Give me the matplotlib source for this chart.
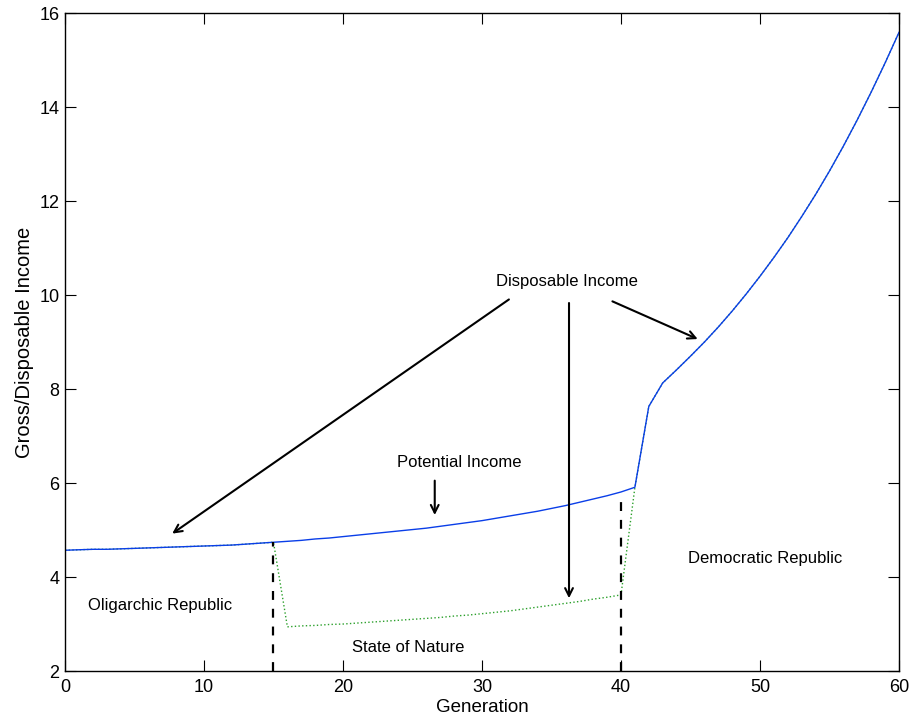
import matplotlib
matplotlib.use("Agg")
import matplotlib.pyplot as plt

plt.rcParams['font.family'] = ['Liberation Sans', 'DejaVu Sans']

# generations 0..60
generation = list(range(61))

# potential (gross) income
potential = [4.57, 4.58, 4.59, 4.59, 4.60, 4.61, 4.62, 4.63, 4.64, 4.65,
             4.66, 4.67, 4.68, 4.70, 4.72, 4.74, 4.76, 4.78, 4.81, 4.83,
             4.86, 4.89, 4.92, 4.95, 4.98, 5.01, 5.04, 5.08, 5.12, 5.16,
             5.20, 5.25, 5.30, 5.35, 5.40, 5.46, 5.52, 5.59, 5.66, 5.73,
             5.81, 5.91, 7.63, 8.13, 8.41, 8.70, 9.00, 9.32, 9.66, 10.02,
             10.40, 10.80, 11.22, 11.67, 12.14, 12.64, 13.17, 13.73, 14.32, 14.94,
             15.59]

# disposable income: drops during the state of nature (generations 16..40)
nature_income = [2.94, 2.96, 2.97, 2.99, 3.00, 3.02, 3.04, 3.06, 3.08, 3.10,
                 3.12, 3.14, 3.17, 3.19, 3.22, 3.25, 3.28, 3.32, 3.36, 3.40,
                 3.44, 3.48, 3.53, 3.57, 3.62]
disposable = potential[:16] + nature_income + potential[41:]

# regime switches
switch_gens = [15, 40]
switch_tops = [4.74, 5.72]

fig = plt.figure(figsize=(9.14, 7.27), dpi=100)
ax = fig.add_axes([0.0711, 0.077, 0.9125, 0.905])

ax.plot(generation, disposable, color='#2ca02c', linestyle=':', linewidth=1.0)
ax.plot(generation, potential, color='#0a3ee8', linewidth=1.0)

for g, top in zip(switch_gens, switch_tops):
    ax.plot([g, g], [2, top], color='black', linestyle='--', linewidth=1.6,
            dashes=(4, 4))

ax.set_xlim(0, 60)
ax.set_ylim(2, 16)
ax.set_xticks(range(0, 61, 10))
ax.set_yticks(range(2, 17, 2))
ax.tick_params(direction='in', top=True, right=True, labelsize=13, length=8)
ax.tick_params(axis='x', pad=6)
ax.tick_params(axis='y', pad=4)
for s in ax.spines.values():
    s.set_linewidth(1.0)
ax.set_xlabel("Generation", fontsize=13.5, labelpad=2)
ax.set_ylabel("Gross/Disposable Income", fontsize=14.5, labelpad=4)

# annotations
arrow = dict(arrowstyle='->', color='black', lw=1.5, mutation_scale=14)
fs = 12
ax.text(36.1, 10.28, "Disposable Income", ha='center', va='center', fontsize=fs)
ax.annotate("", xy=(7.55, 4.89), xytext=(32.1, 9.94), arrowprops=arrow)
ax.annotate("", xy=(36.26, 3.49), xytext=(36.26, 9.89), arrowprops=arrow)
ax.annotate("", xy=(45.7, 9.04), xytext=(39.2, 9.89), arrowprops=arrow)

ax.text(28.35, 6.43, "Potential Income", ha='center', va='center', fontsize=fs)
ax.annotate("", xy=(26.6, 5.26), xytext=(26.6, 6.11), arrowprops=arrow)

ax.text(6.83, 3.40, "Oligarchic Republic", ha='center', va='center', fontsize=fs)
ax.text(24.7, 2.49, "State of Nature", ha='center', va='center', fontsize=fs)
ax.text(50.4, 4.40, "Democratic Republic", ha='center', va='center', fontsize=fs)

fig.savefig("out.png", dpi=100)
